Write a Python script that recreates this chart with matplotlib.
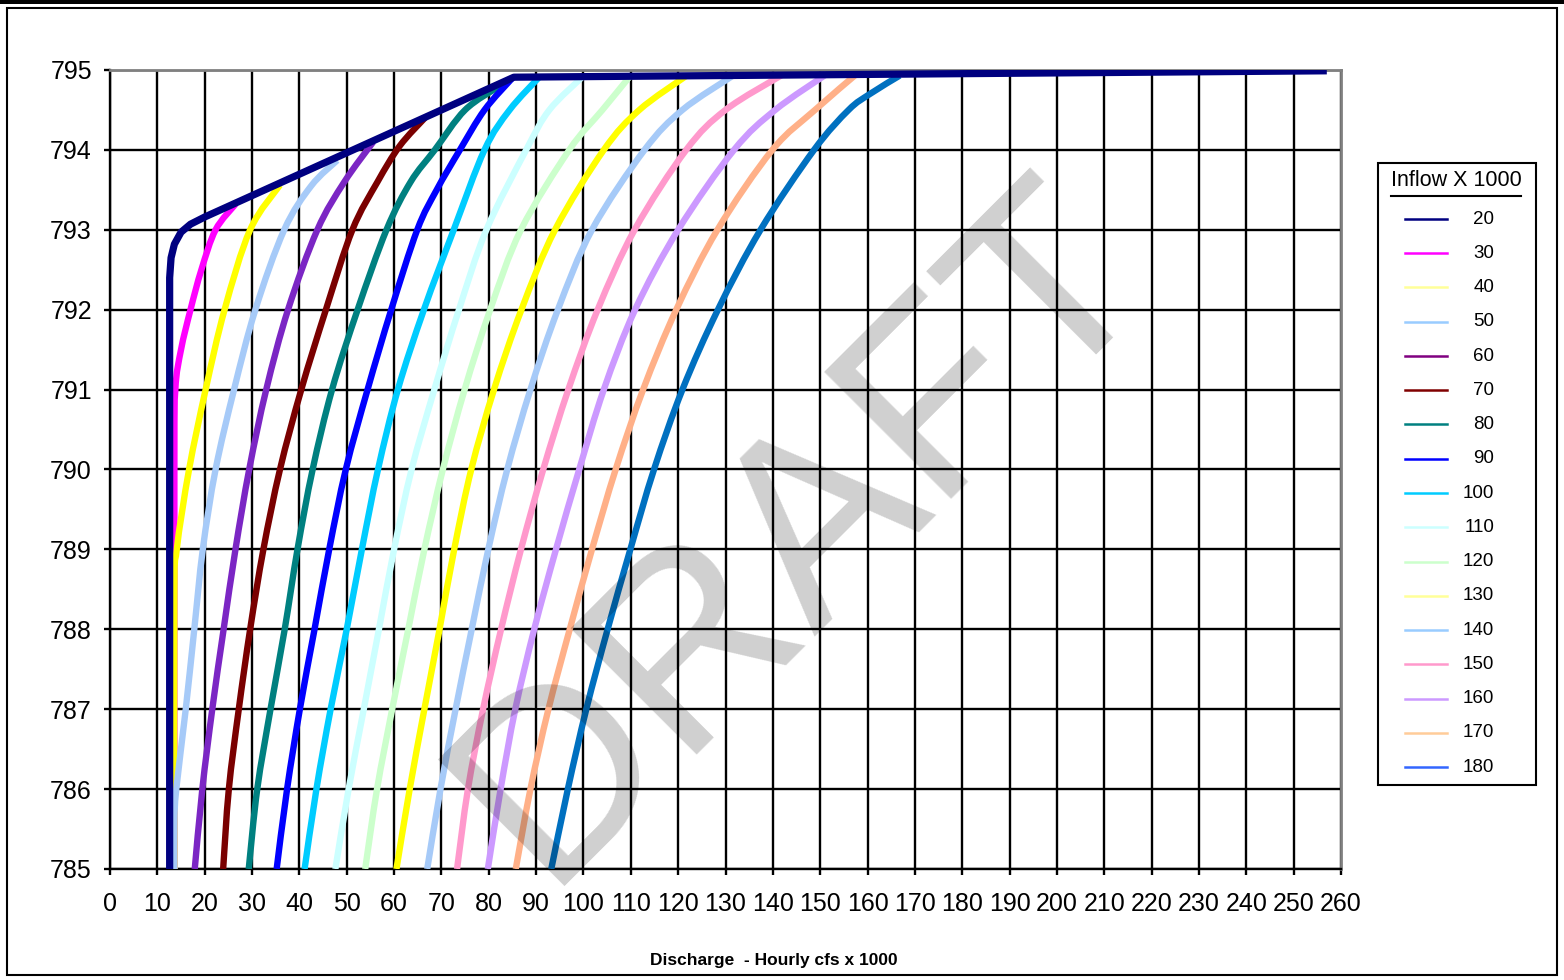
import matplotlib
matplotlib.use("Agg")
import matplotlib.pyplot as plt
from matplotlib.lines import Line2D
from matplotlib.patches import Rectangle, PathPatch
from matplotlib.path import Path

plt.rcParams['font.family'] = ['Liberation Sans', 'DejaVu Sans']

# ---------------- data ----------------
inflows = [20, 30, 40, 50, 60, 70, 80, 90, 100, 110, 120, 130, 140, 150, 160, 170, 180]

q20 = [12.6, 12.6, 12.9, 13.6, 15.0, 17.0, 20.0, 85.3, 257.0]
e20 = [785, 792.4, 792.65, 792.82, 792.97, 793.07, 793.16, 794.91, 794.99]

q30 = [13.6, 13.6, 13.8, 15.0, 17.0, 19.3, 22.3, 26.5]
e30 = [785, 790, 791, 791.5, 792, 792.5, 793, 793.32]

q40 = [13.6, 13.6, 14.1, 16.7, 20.2, 24.2, 29.6, 35.9]
e40 = [785, 788.4, 789, 790, 791, 792, 793, 793.56]

q50 = [13.6, 13.6, 14.0, 16.0, 17.8, 19.6, 22.3, 26.2, 30.7, 36.8, 42.5, 48.0]
e50 = [785, 785.6, 786, 787, 788, 789, 790, 791, 792, 793, 793.55, 793.87]

q60 = [17.9, 19.5, 21.6, 24.0, 26.5, 29.4, 33.0, 37.6, 43.8, 49.5, 55.6]
e60 = [785, 786, 787, 788, 789, 790, 791, 792, 793, 793.6, 794.1]

q70 = [23.9, 25.1, 27.2, 29.6, 32.4, 35.9, 40.4, 45.6, 51.2, 56.5, 61.2, 66.5]
e70 = [785, 786, 787, 788, 789, 790, 791, 792, 793, 793.6, 794.05, 794.4]

q80 = [29.3, 31.1, 33.9, 36.9, 39.6, 42.8, 46.9, 52.3, 58.4, 63.5, 68.6, 75.0, 82.3]
e80 = [785, 786, 787, 788, 789, 790, 791, 792, 793, 793.6, 794.0, 794.5, 794.8]

q90 = [35.2, 37.4, 40.1, 43.2, 46.3, 49.8, 54.4, 59.4, 64.9, 69.0, 73.9, 79.1, 85.0]
e90 = [785, 786, 787, 788, 789, 790, 791, 792, 793, 793.5, 794, 794.5, 794.9]

q100 = [41.1, 43.6, 46.6, 50.0, 53.2, 56.6, 60.8, 66.3, 72.6, 79.1, 84.4, 90.8]
e100 = [785, 786, 787, 788, 789, 790, 791, 792, 793, 794, 794.5, 794.92]

q110 = [47.6, 50.4, 53.6, 56.8, 60.0, 63.7, 68.5, 73.7, 79.5, 87.9, 92.8, 99.9]
e110 = [785, 786, 787, 788, 789, 790, 791, 792, 793, 794, 794.5, 794.92]

q120 = [53.9, 56.4, 59.6, 63.0, 66.4, 70.3, 74.9, 80.3, 86.8, 97.0, 104.0, 109.8]
e120 = [785, 786, 787, 788, 789, 790, 791, 792, 793, 794, 794.5, 794.92]

q130 = [60.5, 63.3, 66.4, 69.6, 72.7, 76.3, 81.1, 86.9, 94.0, 104.3, 111.8, 121.8]
e130 = [785, 786, 787, 788, 789, 790, 791, 792, 793, 794, 794.5, 794.93]

q140 = [67.0, 69.8, 73.0, 76.4, 79.9, 83.9, 88.8, 94.6, 101.8, 112.9, 120.9, 131.6]
e140 = [785, 786, 787, 788, 789, 790, 791, 792, 793, 794, 794.5, 794.93]

q150 = [73.3, 75.6, 78.8, 82.6, 86.8, 91.5, 96.8, 103.0, 110.8, 121.7, 130.0, 142.0]
e150 = [785, 786, 787, 788, 789, 790, 791, 792, 793, 794, 794.5, 794.94]

q160 = [79.8, 82.5, 85.6, 89.6, 94.2, 99.1, 104.3, 110.9, 120.0, 131.8, 140.5, 151.4]
e160 = [785, 786, 787, 788, 789, 790, 791, 792, 793, 794, 794.5, 794.95]

q170 = [85.7, 88.8, 92.6, 97.1, 101.8, 106.8, 112.6, 119.6, 128.3, 139.9, 148.9, 157.7]
e170 = [785, 786, 787, 788, 789, 790, 791, 792, 793, 794, 794.5, 794.95]

q180 = [93.2, 96.7, 100.6, 105.1, 109.9, 114.9, 120.9, 128.4, 137.4, 148.7, 156.0, 160.5, 166.8]
e180 = [785, 786, 787, 788, 789, 790, 791, 792, 793, 794, 794.5, 794.7, 794.93]

discharges = [q20, q30, q40, q50, q60, q70, q80, q90, q100, q110, q120,
              q130, q140, q150, q160, q170, q180]
elevations = [e20, e30, e40, e50, e60, e70, e80, e90, e100, e110, e120,
              e130, e140, e150, e160, e170, e180]

line_colors = ['#000080', '#FF00FF', '#FFFF00', '#A6CAF8', '#7B26C4', '#7A0000',
               '#008080', '#0000FF', '#00CCFF', '#CCFFFF', '#CCFFCC', '#FFFF00',
               '#A6CAF8', '#FF99CC', '#CC99FF', '#FFB088', '#0070C0']
legend_colors = ['#000080', '#FF00FF', '#FFFF99', '#99CCFF', '#800080', '#800000',
                 '#008080', '#0000FF', '#00CCFF', '#CCFFFF', '#CCFFCC', '#FFFF99',
                 '#99CCFF', '#FF99CC', '#CC99FF', '#FFCC99', '#3366FF']

x_ticks = list(range(0, 261, 10))
y_ticks = list(range(785, 796))

# ---------------- figure ----------------
W, H = 1564, 980
fig = plt.figure(figsize=(W / 100, H / 100), dpi=100)


def fx(px):
    return px / W


def fy(py):
    return 1 - py / H


def smooth_path(xs, ys):
    """Smoothed line through the data points (Catmull-Rom as cubic Bezier)."""
    pts = list(zip(xs, ys))
    n = len(pts)
    verts = [pts[0]]
    codes = [Path.MOVETO]
    for i in range(n - 1):
        p0 = pts[i - 1] if i > 0 else pts[i]
        p1 = pts[i]
        p2 = pts[i + 1]
        p3 = pts[i + 2] if i + 2 < n else pts[i + 1]
        c1 = (p1[0] + (p2[0] - p0[0]) / 6.0, p1[1] + (p2[1] - p0[1]) / 6.0)
        c2 = (p2[0] - (p3[0] - p1[0]) / 6.0, p2[1] - (p3[1] - p1[1]) / 6.0)
        verts += [c1, c2, p2]
        codes += [Path.CURVE4] * 3
    return Path(verts, codes)


# outer frame and top band
fig.patches.append(Rectangle((0, fy(4)), 1, fy(0) - fy(4), transform=fig.transFigure,
                             facecolor='black', edgecolor='none'))
fig.patches.append(Rectangle((fx(7), fy(975)), fx(1557) - fx(7), fy(8) - fy(975),
                             transform=fig.transFigure, facecolor='none',
                             edgecolor='black', lw=1.5))

ax = fig.add_axes([fx(110), fy(869), fx(1341) - fx(110), fy(70) - fy(869)])
ax.set_xlim(0, 260)
ax.set_ylim(785, 795)
ax.set_xticks(x_ticks)
ax.set_yticks(y_ticks)
ax.grid(True, color='black', lw=1.7)
ax.set_axisbelow(True)
for s in ['top', 'right']:
    ax.spines[s].set_color('#808080')
    ax.spines[s].set_linewidth(2)
for s in ['left', 'bottom']:
    ax.spines[s].set_color('black')
    ax.spines[s].set_linewidth(1.7)
ax.tick_params(axis='both', labelsize=18, direction='out', length=4.5, width=1.7)
ax.tick_params(axis='y', pad=8.5)
ax.tick_params(axis='x', pad=12)

# curves (navy envelope drawn last so it sits on top)
order = list(range(1, len(inflows))) + [0]
for i in order:
    if i == 0:
        ax.plot(discharges[i], elevations[i], color=line_colors[i], lw=5.2,
                solid_joinstyle='round', solid_capstyle='butt', zorder=4)
    else:
        ax.add_patch(PathPatch(smooth_path(discharges[i], elevations[i]),
                               fill=False, edgecolor=line_colors[i], lw=4.6,
                               capstyle='butt', joinstyle='round', zorder=3))

fig.text(fx(774), fy(960), 'Discharge  - Hourly cfs x 1000', fontsize=12.5,
         fontweight='bold', ha='center', va='center')

# watermark
fig.text(fx(543), fy(886), 'DRAFT', fontsize=187, color='black', alpha=0.19,
         rotation=45, rotation_mode='anchor', ha='left', va='baseline', zorder=20)

# legend (manual)
fig.patches.append(Rectangle((fx(1378), fy(785)), fx(1536) - fx(1378), fy(163) - fy(785),
                             transform=fig.transFigure, facecolor='white',
                             edgecolor='black', lw=1.5))
fig.text(fx(1456), fy(181), 'Inflow X 1000', fontsize=15.5, ha='center', va='center')
fig.lines.append(Line2D([fx(1391), fx(1521)], [fy(196), fy(196)],
                        transform=fig.transFigure, color='black', lw=1.5))
for k, (val, col) in enumerate(zip(inflows, legend_colors)):
    yy = 219 + 34.25 * k
    fig.lines.append(Line2D([fx(1405), fx(1447)], [fy(yy), fy(yy)],
                            transform=fig.transFigure, color=col, lw=1.8))
    fig.text(fx(1494), fy(yy), str(val), fontsize=13.5, ha='right', va='center')

fig.savefig('out.png', dpi=100)
